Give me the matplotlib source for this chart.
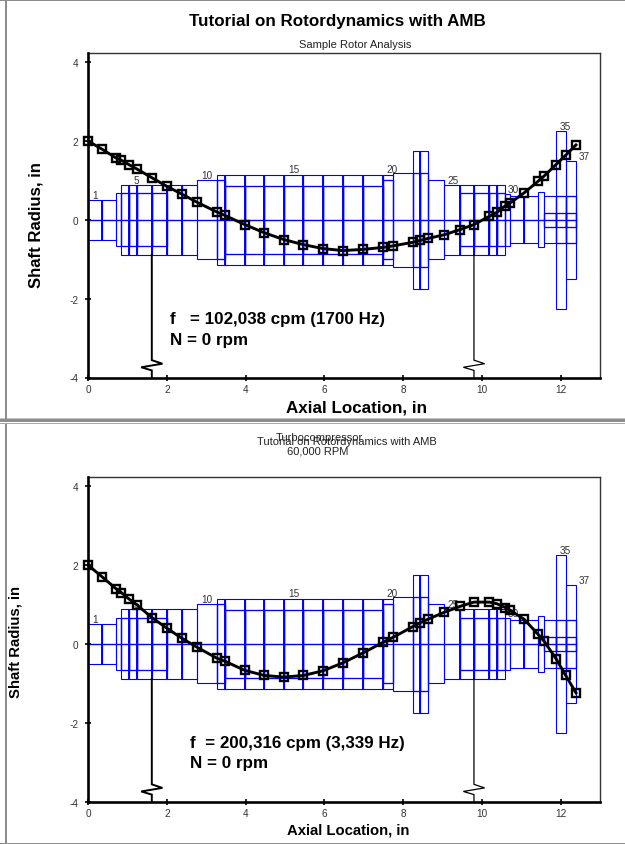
import matplotlib
matplotlib.use("Agg")
import matplotlib.pyplot as plt
from matplotlib.patches import Rectangle

plt.rcParams['font.family'] = ['Liberation Sans', 'DejaVu Sans']
plt.rcParams['axes.unicode_minus'] = False

W, H = 625, 845

stations = [0, .36, .71, .85, 1.04, 1.24, 1.62, 2.0, 2.39, 2.76, 3.27, 3.48, 3.98, 4.48, 4.97,
            5.47, 5.97, 6.47, 6.98, 7.49, 7.75, 8.25, 8.44, 8.64, 9.04, 9.44, 9.8, 10.19, 10.38,
            10.6, 10.71, 11.08, 11.43, 11.58, 11.88, 12.13, 12.39]
outer_r = [.5, .5, .67, .89, .89, .89, .89, .89, .89, 1.0, 1.15, 1.15, 1.15, 1.15, 1.15, 1.15, 1.15,
           1.15, 1.15, 1.15, 1.2, 1.75, 1.75, 1.0, .89, .89, .89, .89, .89, .66, .6, .6, .7, .6, 2.25, 1.5]
inner_r = [0, 0, 0, .67, .67, .67, .67, 0, 0, 0, 1.0, .87, .87, .87, .87, .87, .87,
           .87, .87, 1.0, 0, 1.2, 1.2, 0, 0, .67, .67, .67, .67, 0, 0, 0, 0, 0, .6, .6]
core_r = [0] * 33 + [.18, .18, .18]

mode_1 = [2.0, 1.79, 1.57, 1.51, 1.40, 1.29, 1.07, .85, .65, .45, .2, .11, -.12, -.33, -.5, -.63,
          -.73, -.78, -.75, -.70, -.66, -.57, -.52, -.47, -.38, -.25, -.12, .09, .19, .36, .42,
          .69, .98, 1.11, 1.40, 1.64, 1.90]
mode_2 = [2.0, 1.70, 1.40, 1.30, 1.14, .99, .67, .40, .14, -.08, -.36, -.44, -.67, -.80, -.84, -.80,
          -.68, -.48, -.23, .04, .17, .44, .54, .63, .80, .95, 1.06, 1.06, 1.02, .92, .86,
          .62, .24, .07, -.37, -.80, -1.24]

label_text = ['1', '5', '10', '15', '20', '25', '30', '35', '37']
label_x = [.17, 1.22, 3.01, 5.22, 7.73, 9.28, 10.81, 12.12, 12.61]
label_y = [.63, 1.02, 1.13, 1.28, 1.28, 1.02, .79, 2.38, 1.63]

bearing_x = [1.62, 9.8]
bearing_lw = [1.4, .9]
x_ticks = [0, 2, 4, 6, 8, 10, 12]
y_ticks = [-4, -2, 0, 2, 4]

fig = plt.figure(figsize=(W / 100, H / 100), dpi=100)
fig.patch.set_facecolor('white')


def T(x, y, s, **kw):
    kw.setdefault('ha', 'center')
    kw.setdefault('va', 'center')
    kw.setdefault('color', 'black')
    fig.text(x / W, 1 - y / H, s, **kw)


def hline(y0, y1, x0=0, x1=W, c='#8c8c8c'):
    fig.add_artist(Rectangle((x0 / W, 1 - y1 / H), (x1 - x0) / W, (y1 - y0) / H,
                             transform=fig.transFigure, fc=c, ec='none', zorder=5))


# window frames
hline(0, 1.5)
hline(419, 420, c='#c4c4c4')
hline(420, 423)
hline(424, 425.3, c='#a8a8a8')
hline(844, 845)
hline(0, 419.5, 5, 7)
hline(425, 845, 5, 7)


def panel(top, bottom, mode, txt_color='#333333'):
    ax = fig.add_axes([88 / W, 1 - bottom / H, 512 / W, (bottom - top) / H])
    ax.set_xlim(0, 13)
    ax.set_ylim(-4, 4.24)
    for side in ('top', 'right'):
        ax.spines[side].set_linewidth(1.0)
        ax.spines[side].set_color('#333333')
    for side in ('left', 'bottom'):
        ax.spines[side].set_linewidth(1.9)
        ax.spines[side].set_zorder(6)
    ax.set_xticks(x_ticks)
    ax.set_yticks(y_ticks)
    ax.tick_params(direction='inout', length=4, width=1.2, labelsize=7.2,
                   labelcolor=txt_color)
    ax.tick_params(axis='y', pad=4.8)
    ax.tick_params(axis='x', pad=2.5)

    for i, r in enumerate(outer_r):
        x0, x1 = stations[i], stations[i + 1]
        for rad, lw in ((r, .8), (inner_r[i], .95), (core_r[i], .95)):
            if rad > 0:
                ax.add_patch(Rectangle((x0, -rad), x1 - x0, 2 * rad, fill=False,
                                       ec='#0000ff', lw=lw, zorder=2))
        # edge shared by two elements of the same radius is drawn twice, so it reads heavier
        if i > 0 and outer_r[i - 1] == r:
            ax.vlines(x0, -r, r, color='#0000ff', lw=1.4, zorder=2)
    ax.plot([stations[0], stations[-1]], [0, 0], color='#0000ff', lw=1.0, zorder=2)

    for k, bx in enumerate(bearing_x):
        rad = .89
        ax.plot([bx, bx, bx + .27, bx - .27, bx, bx], [-rad, -3.56, -3.65, -3.74, -3.82, -4],
                color='black', lw=bearing_lw[k], solid_joinstyle='miter', zorder=3)

    for s, lx, ly in zip(label_text, label_x, label_y):
        ax.text(lx, ly, s, fontsize=7.2, color=txt_color, ha='center', va='center', zorder=3)

    ax.plot(stations, mode, color='black', lw=2.1, marker='s', ms=5.6, mfc='none',
            mec='black', mew=1.7, zorder=7, clip_on=False)
    return ax


panel(53.7, 378.5, mode_1)
panel(477.7, 802.7, mode_2)

# upper window texts
T(337.5, 21.5, 'Tutorial on Rotordynamics with AMB', fontsize=12.25, fontweight='bold')
T(355, 45, 'Sample Rotor Analysis', fontsize=8, color='#222222')
T(36, 225, 'Shaft Radius, in', fontsize=12.1, fontweight='bold', rotation=90)
T(357, 408, 'Axial Location, in', fontsize=12.25, fontweight='bold')
T(170, 320, 'f   = 102,038 cpm (1700 Hz)', fontsize=12.25, fontweight='bold', ha='left')
T(170, 340.7, 'N = 0 rpm', fontsize=12.25, fontweight='bold', ha='left')

# lower window texts
T(319, 438, 'Turbocompressor', fontsize=8, color='#222222')
T(347, 442, 'Tutorial on Rotordynamics with AMB', fontsize=8, color='#222222')
T(318, 452, '60,000 RPM', fontsize=8, color='#222222')
T(16, 642, 'Shaft Radius, in', fontsize=10.7, fontweight='bold', rotation=90)
T(348, 831, 'Axial Location, in', fontsize=10.7, fontweight='bold')
T(190, 744, 'f  = 200,316 cpm (3,339 Hz)', fontsize=12.25, fontweight='bold', ha='left')
T(190, 763.5, 'N = 0 rpm', fontsize=12.25, fontweight='bold', ha='left')

fig.savefig('out.png', dpi=100)
